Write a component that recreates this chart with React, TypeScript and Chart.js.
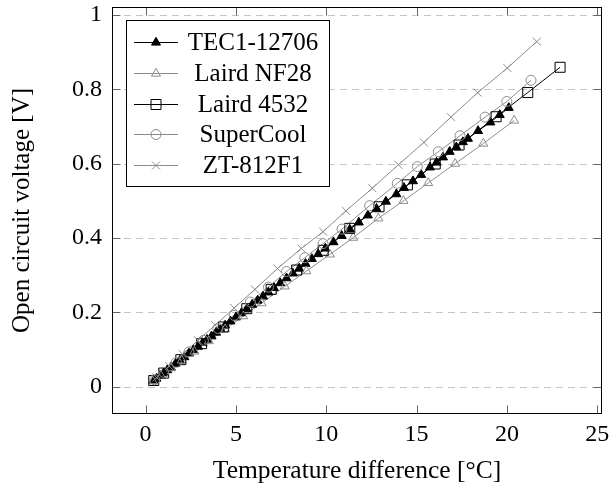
import React, { useEffect, useRef } from "react";
import { Chart, registerables } from "chart.js";

Chart.register(...registerables);

// ---------- data ----------
const seriesNames = ["TEC1-12706", "Laird NF28", "Laird 4532", "SuperCool", "ZT-812F1"];

const xTicks = [0, 5, 10, 15, 20, 25];
const yTicks = [0, 0.2, 0.4, 0.6, 0.8, 1];
const yTickLabels = ["0", "0.2", "0.4", "0.6", "0.8", "1"];

const tecX = [0.45, 0.6, 0.8, 1.0, 1.2, 1.4, 1.65, 1.9, 2.15, 2.4, 2.65, 2.9, 3.15, 3.4, 3.65, 3.9, 4.15, 4.4, 4.7, 5.0, 5.3, 5.6, 5.9, 6.2, 6.5, 6.8, 7.1, 7.45, 7.8, 8.15, 8.5, 8.85, 9.2, 9.55, 9.95, 10.4, 10.85, 11.3, 11.8, 12.3, 12.78, 13.3, 13.88, 14.3, 14.8, 15.25, 15.74, 16.1, 16.46, 16.83, 17.2, 17.56, 17.84, 18.4, 19.08, 19.6, 20.1];
const tecY = [0.017, 0.022, 0.03, 0.037, 0.045, 0.052, 0.062, 0.071, 0.08, 0.09, 0.099, 0.108, 0.118, 0.127, 0.136, 0.146, 0.155, 0.165, 0.176, 0.187, 0.198, 0.209, 0.221, 0.232, 0.243, 0.254, 0.266, 0.279, 0.292, 0.305, 0.318, 0.331, 0.344, 0.357, 0.372, 0.389, 0.406, 0.423, 0.442, 0.461, 0.479, 0.498, 0.518, 0.535, 0.553, 0.57, 0.59, 0.603, 0.617, 0.632, 0.644, 0.658, 0.667, 0.688, 0.711, 0.731, 0.75];

const nf28X = [0.4, 0.85, 1.4, 2.0, 2.7, 3.5, 4.4, 5.4, 6.42, 7.7, 8.9, 10.2, 11.49, 12.88, 14.27, 15.64, 17.13, 18.69, 20.4];
const nf28Y = [0.015, 0.03, 0.05, 0.071, 0.095, 0.123, 0.155, 0.19, 0.225, 0.27, 0.311, 0.356, 0.401, 0.453, 0.5, 0.548, 0.6, 0.654, 0.716];

const l4532X = [0.45, 1.0, 1.95, 3.1, 4.3, 5.6, 6.95, 8.36, 9.83, 11.3, 12.92, 14.49, 16.03, 17.35, 19.4, 21.15, 22.94];
const l4532Y = [0.017, 0.037, 0.073, 0.116, 0.161, 0.21, 0.262, 0.314, 0.367, 0.426, 0.484, 0.543, 0.599, 0.65, 0.726, 0.791, 0.859];

const superX = [0.5, 1.0, 1.7, 2.4, 3.2, 4.0, 4.9, 5.8, 6.8, 7.8, 8.81, 9.82, 10.87, 12.4, 13.93, 15.04, 16.2, 17.4, 18.79, 19.99, 21.33];
const superY = [0.019, 0.039, 0.066, 0.094, 0.125, 0.157, 0.192, 0.228, 0.268, 0.31, 0.347, 0.385, 0.424, 0.487, 0.547, 0.592, 0.632, 0.675, 0.725, 0.767, 0.824];

const ztX = [0.6, 1.3, 2.05, 2.9, 3.85, 4.9, 6.05, 7.3, 8.62, 9.82, 11.09, 12.55, 13.99, 15.4, 16.9, 18.38, 20.02, 21.65];
const ztY = [0.025, 0.056, 0.088, 0.125, 0.166, 0.212, 0.262, 0.318, 0.372, 0.417, 0.473, 0.534, 0.597, 0.657, 0.725, 0.791, 0.857, 0.928];

// ---------- styles ----------
const BLACK = "#000000";
const GRAY = "#8c8c8c";
const FONT = "'Liberation Serif', 'Times New Roman', serif";

type Sty = { color: string; shape: string; radius: number; fill: boolean };
const styles: Sty[] = [
  { color: BLACK, shape: "triangle", radius: 5.2, fill: true },
  { color: GRAY, shape: "triangle", radius: 5.2, fill: false },
  { color: BLACK, shape: "rect", radius: 5, fill: false },
  { color: GRAY, shape: "circle", radius: 5, fill: false },
  { color: GRAY, shape: "crossRot", radius: 4, fill: false },
];

function toPts(xs: number[], ys: number[]) {
  return xs.map((x, i) => ({ x, y: ys[i] }));
}

function drawMarker(ctx: CanvasRenderingContext2D, s: Sty, x: number, y: number) {
  const r = s.radius;
  ctx.save();
  ctx.lineWidth = 1;
  ctx.strokeStyle = s.color;
  ctx.fillStyle = s.color;
  ctx.beginPath();
  if (s.shape === "triangle") {
    ctx.moveTo(x, y - r);
    ctx.lineTo(x + r * 0.866, y + r * 0.5);
    ctx.lineTo(x - r * 0.866, y + r * 0.5);
    ctx.closePath();
  } else if (s.shape === "rect") {
    ctx.rect(x - r, y - r, 2 * r, 2 * r);
  } else if (s.shape === "circle") {
    ctx.arc(x, y, r, 0, Math.PI * 2);
  } else {
    ctx.moveTo(x - r, y - r);
    ctx.lineTo(x + r, y + r);
    ctx.moveTo(x + r, y - r);
    ctx.lineTo(x - r, y + r);
  }
  if (s.fill) ctx.fill();
  ctx.stroke();
  ctx.restore();
}

const markerPlugin = {
  id: "customMarks",
  beforeDatasetsDraw(chart: any) {
    const ctx: CanvasRenderingContext2D = chart.ctx;
    const { left, right } = chart.chartArea;
    const ys = chart.scales.y;
    ctx.save();
    ctx.strokeStyle = "#c4c4c4";
    ctx.lineWidth = 1;
    ctx.setLineDash([7, 5]);
    yTicks.forEach((v) => {
      const y = Math.round(ys.getPixelForValue(v)) + 0.5;
      ctx.beginPath();
      ctx.moveTo(left, y);
      ctx.lineTo(right, y);
      ctx.stroke();
    });
    ctx.restore();
  },
  afterDatasetsDraw(chart: any) {
    const ctx: CanvasRenderingContext2D = chart.ctx;
    chart.data.datasets.forEach((ds: any, di: number) => {
      const meta = chart.getDatasetMeta(di);
      meta.data.forEach((pt: any) => drawMarker(ctx, styles[di], pt.x, pt.y));
    });
  },
  afterDraw(chart: any) {
    const ctx: CanvasRenderingContext2D = chart.ctx;
    const { left, right, top, bottom } = chart.chartArea;
    const xs = chart.scales.x;
    const ys = chart.scales.y;
    const L = Math.round(left) + 0.5, R = Math.round(right) - 0.5;
    const T = Math.round(top) + 0.5, B = Math.round(bottom) - 0.5;
    ctx.save();
    // ticks (inward, both sides)
    ctx.strokeStyle = "#666";
    ctx.lineWidth = 1;
    const tl = 8;
    xTicks.forEach((v) => {
      const x = Math.round(xs.getPixelForValue(v)) + 0.5;
      ctx.beginPath();
      ctx.moveTo(x, B); ctx.lineTo(x, B - tl);
      ctx.moveTo(x, T); ctx.lineTo(x, T + tl);
      ctx.stroke();
    });
    yTicks.forEach((v) => {
      const y = Math.round(ys.getPixelForValue(v)) + 0.5;
      ctx.beginPath();
      ctx.moveTo(L, y); ctx.lineTo(L + tl, y);
      ctx.moveTo(R, y); ctx.lineTo(R - tl, y);
      ctx.stroke();
    });
    // frame
    ctx.strokeStyle = "#000";
    ctx.strokeRect(L, T, R - L, B - T);

    // legend
    const bx = 126.5, by = 20.5, bw = 203, bh = 166;
    ctx.fillStyle = "#fff";
    ctx.fillRect(bx, by, bw, bh);
    ctx.strokeStyle = "#000";
    ctx.strokeRect(bx, by, bw, bh);
    const rowY0 = 42, rowStep = 30.8;
    ctx.font = `25px ${FONT}`;
    ctx.textAlign = "center";
    ctx.textBaseline = "middle";
    seriesNames.forEach((name, i) => {
      const y = Math.round(rowY0 + i * rowStep) + 0.5;
      const s = styles[i];
      ctx.strokeStyle = s.color;
      ctx.lineWidth = 1;
      ctx.beginPath();
      ctx.moveTo(134, y);
      ctx.lineTo(178, y);
      ctx.stroke();
      drawMarker(ctx, s, 156, y);
      ctx.fillStyle = "#000";
      ctx.fillText(name, 253, y + 1);
    });
    ctx.restore();
  },
};

export default function App() {
  const ref = useRef<HTMLCanvasElement | null>(null);
  useEffect(() => {
    if (!ref.current) return;
    Chart.defaults.font.family = FONT;
    const allX = [tecX, nf28X, l4532X, superX, ztX];
    const allY = [tecY, nf28Y, l4532Y, superY, ztY];
    const chart = new Chart(ref.current, {
      type: "line",
      data: {
        datasets: seriesNames.map((name, i) => ({
          label: name,
          data: toPts(allX[i], allY[i]),
          borderColor: styles[i].color,
          borderWidth: 1,
          pointRadius: 0,
          pointHoverRadius: 0,
          fill: false,
          tension: 0,
          order: 5 - i,
        })),
      },
      options: {
        responsive: false,
        animation: false,
        events: [],
        layout: { padding: { left: 0, right: 7, top: 7, bottom: 0 } },
        plugins: { legend: { display: false }, tooltip: { enabled: false } },
        scales: {
          x: {
            type: "linear",
            min: -1.86,
            max: 25.26,
            grid: { display: false, drawTicks: false },
            border: { display: false },
            afterBuildTicks: (s: any) => {
              s.ticks = xTicks.map((value) => ({ value }));
            },
            afterFit: (s: any) => {
              s.height = 75;
              s.paddingLeft = 0;
              s.paddingRight = 0;
            },
            ticks: {
              color: "#000",
              font: { size: 24 },
              padding: 6,
              maxRotation: 0,
              callback: (v: any) => String(v),
            },
            title: {
              display: true,
              text: "Temperature difference [°C]",
              color: "#000",
              font: { size: 25.5 },
              padding: { top: 0, bottom: 2 },
            },
          },
          y: {
            type: "linear",
            min: -0.073,
            max: 1.021,
            grid: { display: false, drawTicks: false },
            border: { display: false },
            afterBuildTicks: (s: any) => {
              s.ticks = yTicks.map((value) => ({ value }));
            },
            afterFit: (s: any) => {
              s.width = 112;
              s.paddingTop = 0;
              s.paddingBottom = 0;
            },
            ticks: {
              color: "#000",
              font: { size: 24 },
              padding: 10,
              callback: (_v: any, i: number) => yTickLabels[i],
            },
            title: {
              display: true,
              text: "Open circuit voltage [V]",
              color: "#000",
              font: { size: 25 },
              padding: { top: 7, bottom: 0 },
            },
          },
        },
      },
      plugins: [markerPlugin],
    } as any);
    return () => chart.destroy();
  }, []);
  return (
    <div style={{ position: "fixed", left: 0, top: 0, width: 609, height: 489, background: "#fff" }}>
      <canvas ref={ref} width={609} height={489} style={{ display: "block" }} />
    </div>
  );
}
